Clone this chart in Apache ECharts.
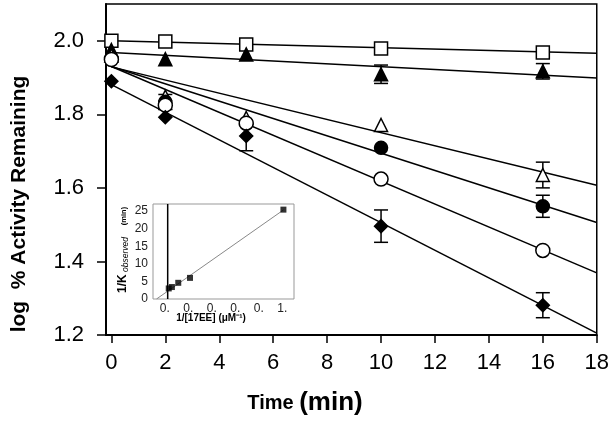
<!DOCTYPE html>
<html>
<head>
<meta charset="utf-8">
<script src="https://cdn.jsdelivr.net/npm/echarts@6/dist/echarts.min.js"></script>
<style>html,body{margin:0;padding:0;background:#fff}#c{width:612px;height:421px}</style>
</head>
<body>
<div id="c"></div>
<script>
// ---- main chart data ----
const xTicks = [0, 2, 4, 6, 8, 10, 12, 14, 16, 18];
const yTicks = [1.2, 1.4, 1.6, 1.8, 2.0];
const yTickLabels = ['1.2', '1.4', '1.6', '1.8', '2.0'];
const timeMin = [0, 2, 5, 10, 16];

const openSquare   = [2.000, 1.998, 1.990, 1.979, 1.968];
const filledTri    = [1.975, 1.950, 1.963, 1.909, 1.917];
const openTri      = [1.960, 1.848, 1.790, 1.771, 1.635];
const filledCircle = [1.950, 1.834, 1.775, 1.709, 1.550];
const openCircle   = [1.949, 1.825, 1.776, 1.624, 1.430];
const filledDiam   = [1.890, 1.792, 1.741, 1.496, 1.281];

const errOpenSquare   = [0, 0, 0, 0, 0];
const errFilledTri    = [0, 0, 0, 0.025, 0.021];
const errOpenTri      = [0, 0, 0, 0, 0.035];
const errFilledCircle = [0, 0.02, 0, 0, 0.030];
const errOpenCircle   = [0, 0.012, 0, 0, 0];
const errFilledDiam   = [0, 0, 0.040, 0.044, 0.034];

const fitOpenSquare   = [[0, 2.000], [18, 1.966]];
const fitFilledTri    = [[0, 1.968], [18, 1.899]];
const fitOpenTri      = [[0, 1.929], [18, 1.607]];
const fitFilledCircle = [[0, 1.930], [18, 1.506]];
const fitOpenCircle   = [[0, 1.930], [18, 1.369]];
const fitFilledDiam   = [[0, 1.881], [18, 1.205]];

// ---- inset data ----
const insetX = [0.034, 0.061, 0.115, 0.215, 1.010];
const insetY = [3.0, 3.4, 4.6, 6.0, 25.4];
const insetFit = [[-0.07, 0], [1.01, 25.3]];
const insetXTicks = [0, 0.2, 0.4, 0.6, 0.8, 1.0];
const insetXTickLabels = ['0.', '0.', '0.', '0.', '0.', '1.'];
const insetYTicks = [0, 5, 10, 15, 20, 25];
const insetVLine = [[0.025, 0], [0.025, 27]];

const FONT = '"Liberation Sans", Arial, sans-serif';

const defs = [
  {y: openSquare,   err: errOpenSquare,   fit: fitOpenSquare,   symbol: 'rect',     size: 13, fill: '#fff'},
  {y: filledTri,    err: errFilledTri,    fit: fitFilledTri,    symbol: 'triangle', size: 13, fill: '#000'},
  {y: openTri,      err: errOpenTri,      fit: fitOpenTri,      symbol: 'triangle', size: 13, fill: '#fff'},
  {y: filledCircle, err: errFilledCircle, fit: fitFilledCircle, symbol: 'circle',   size: 13, fill: '#000'},
  {y: openCircle,   err: errOpenCircle,   fit: fitOpenCircle,   symbol: 'circle',   size: 14, fill: '#fff'},
  {y: filledDiam,   err: errFilledDiam,   fit: fitFilledDiam,   symbol: 'diamond',  size: 13, fill: '#000'}
];

const series = [];
defs.forEach(d => {
  series.push({
    type: 'line', xAxisIndex: 0, yAxisIndex: 0, data: d.fit, symbol: 'none',
    lineStyle: {color: '#000', width: 1.5}, z: 2, silent: true
  });
  series.push({
    type: 'custom', xAxisIndex: 0, yAxisIndex: 0, z: 1, silent: true,
    data: timeMin.map((t, i) => [t, d.y[i], d.err[i]]).filter(p => p[2] > 0),
    renderItem: (params, api) => {
      const x = api.value(0), y = api.value(1), e = api.value(2);
      const top = api.coord([x, y + e]), bot = api.coord([x, y - e]);
      const hw = 7, st = {stroke: '#000', lineWidth: 1.5};
      return {type: 'group', children: [
        {type: 'line', shape: {x1: top[0], y1: top[1], x2: bot[0], y2: bot[1]}, style: st},
        {type: 'line', shape: {x1: top[0] - hw, y1: top[1], x2: top[0] + hw, y2: top[1]}, style: st},
        {type: 'line', shape: {x1: bot[0] - hw, y1: bot[1], x2: bot[0] + hw, y2: bot[1]}, style: st}
      ]};
    }
  });
  series.push({
    type: 'scatter', xAxisIndex: 0, yAxisIndex: 0, z: 3,
    data: timeMin.map((t, i) => [t, d.y[i]]),
    symbol: d.symbol, symbolSize: d.size,
    itemStyle: {color: d.fill, borderColor: '#000', borderWidth: 1.5, opacity: 1}
  });
});

// inset series
series.push({
  type: 'line', xAxisIndex: 1, yAxisIndex: 1, data: insetFit, symbol: 'none', z: 10,
  lineStyle: {color: '#888', width: 1}, silent: true
});
series.push({
  type: 'line', xAxisIndex: 1, yAxisIndex: 1, data: insetVLine, symbol: 'none', z: 10,
  lineStyle: {color: '#000', width: 1.5}, silent: true
});
series.push({
  type: 'scatter', xAxisIndex: 1, yAxisIndex: 1, z: 11,
  data: insetX.map((x, i) => [x, insetY[i]]),
  symbol: 'rect', symbolSize: 6, itemStyle: {color: '#000'}
});

const option = {
  animation: false,
  backgroundColor: '#fff',
  grid: [
    {left: 106, top: 4, width: 495, height: 331, show: true, borderColor: '#000', borderWidth: 1.5, backgroundColor: 'transparent'},
    {left: 153, top: 204, width: 141, height: 95, show: true, borderColor: '#999', borderWidth: 1, backgroundColor: '#fff', z: 9}
  ],
  xAxis: [
    {
      type: 'value', gridIndex: 0, min: -0.2, max: 18,
      axisLine: {show: true, onZero: false, lineStyle: {color: '#000', width: 2}},
      axisTick: {show: true, inside: false, length: 8, lineStyle: {color: '#000', width: 1.5}, customValues: xTicks},
      axisLabel: {customValues: xTicks, fontFamily: FONT, fontSize: 22, color: '#000', margin: 17},
      splitLine: {show: false}
    },
    {
      type: 'value', gridIndex: 1, min: -0.1, max: 1.1, z: 12,
      axisLine: {show: false}, axisTick: {show: false},
      axisLabel: {customValues: insetXTicks, fontFamily: FONT, fontSize: 12, color: '#222', margin: 4,
        formatter: v => insetXTickLabels[insetXTicks.findIndex(t => Math.abs(t - v) < 1e-6)] || ''},
      splitLine: {show: false}
    }
  ],
  yAxis: [
    {
      type: 'value', gridIndex: 0, min: 1.2, max: 2.1,
      axisLine: {show: true, onZero: false, lineStyle: {color: '#000', width: 2}},
      axisTick: {show: true, inside: false, length: 9, lineStyle: {color: '#000', width: 1.5}, customValues: yTicks},
      axisLabel: {customValues: yTicks, fontFamily: FONT, fontSize: 22, color: '#000', margin: 22,
        formatter: v => yTickLabels[yTicks.findIndex(t => Math.abs(t - v) < 1e-6)] || ''},
      splitLine: {show: false}
    },
    {
      type: 'value', gridIndex: 1, min: 0, max: 27, z: 12,
      axisLine: {show: false}, axisTick: {show: false},
      axisLabel: {customValues: insetYTicks, fontFamily: FONT, fontSize: 12, color: '#222', margin: 5},
      splitLine: {show: false}
    }
  ],
  graphic: [
    {type: 'text', x: 19, y: 204, rotation: Math.PI / 2, z: 100,
      style: {text: 'log  % Activity Remaining', font: 'bold 21px ' + FONT, fill: '#000', align: 'center', verticalAlign: 'middle'}},
    {type: 'text', x: 305, y: 403, z: 100,
      style: {text: '{a|Time }{b|(min)}', align: 'center', verticalAlign: 'middle',
        rich: {a: {fontFamily: FONT, fontWeight: 'bold', fontSize: 20, color: '#000'},
               b: {fontFamily: FONT, fontWeight: 'bold', fontSize: 26, color: '#000'}}}},
    {type: 'text', x: 211, y: 318, z: 100,
      style: {text: '1/[17EE] (\u03BCM\u207B\u00B9)', font: 'bold 10px ' + FONT, fill: '#000', align: 'center', verticalAlign: 'middle'}},
    {type: 'text', x: 123, y: 265, rotation: Math.PI / 2, z: 100,
      style: {text: '{b|1/K}{i| observed}', align: 'center', verticalAlign: 'middle',
        rich: {b: {fontFamily: FONT, fontWeight: 'bold', fontSize: 12, color: '#000'},
               i: {fontFamily: FONT, fontStyle: 'italic', fontSize: 8.5, color: '#000', padding: [5, 0, 0, 0]}}}},
    {type: 'text', x: 124, y: 216, rotation: Math.PI / 2, z: 100,
      style: {text: '(min)', font: 'bold 7.5px ' + FONT, fill: '#000', align: 'center', verticalAlign: 'middle'}}
  ],
  series: series
};

const chart = echarts.init(document.getElementById('c'));
chart.setOption(option);
</script>
</body>
</html>
